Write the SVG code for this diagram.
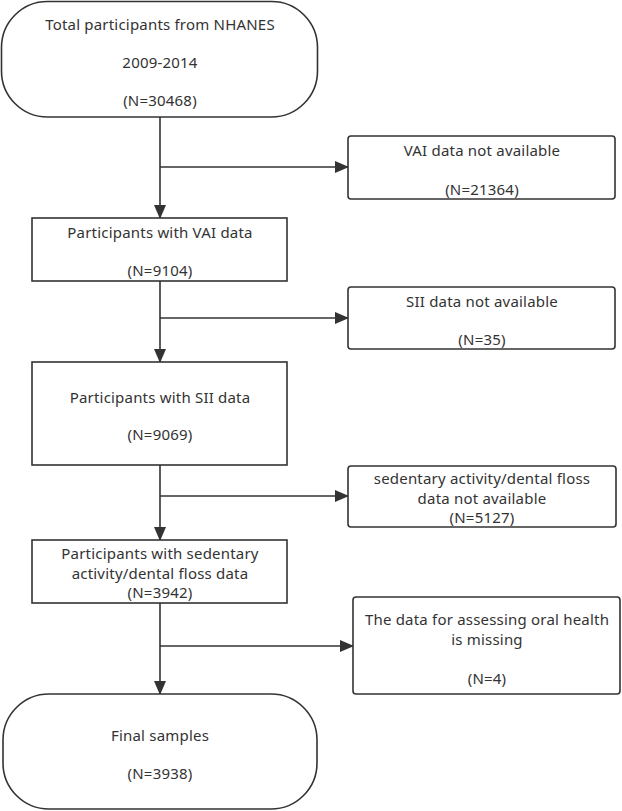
<svg xmlns="http://www.w3.org/2000/svg" width="622" height="811" viewBox="0 0 622 811">
<style>
.box{fill:#fff;stroke:#333;stroke-width:1.6}
.t{font-family:"Noto Sans","Open Sans",sans-serif;font-size:15px;letter-spacing:0.2px;fill:#333;text-anchor:middle;dominant-baseline:central}
.c{fill:none;stroke:#333;stroke-width:1.6}
</style>
<defs>
<marker id="ar" markerUnits="userSpaceOnUse" markerWidth="14" markerHeight="12" refX="13" refY="6" orient="auto">
<path d="M0,0 L14,6 L0,12 Z" fill="#333"/>
</marker>
</defs>
<rect width="622" height="811" fill="#fff"/>
<g id="connectors">
<line class="c" x1="160" y1="117" x2="160" y2="218" marker-end="url(#ar)"/>
<line class="c" x1="160" y1="167" x2="348" y2="167" marker-end="url(#ar)"/>
<line class="c" x1="160" y1="281" x2="160" y2="362" marker-end="url(#ar)"/>
<line class="c" x1="160" y1="318" x2="348" y2="318" marker-end="url(#ar)"/>
<line class="c" x1="160" y1="465" x2="160" y2="540" marker-end="url(#ar)"/>
<line class="c" x1="160" y1="496" x2="348" y2="496" marker-end="url(#ar)"/>
<line class="c" x1="160" y1="603" x2="160" y2="694" marker-end="url(#ar)"/>
<line class="c" x1="160" y1="646" x2="353" y2="646" marker-end="url(#ar)"/>
</g>
<g id="n-total">
<rect class="box" x="1.5" y="1.5" width="316" height="115.5" rx="46" ry="46"/>
<text class="t" x="160" y="24">Total participants from NHANES</text>
<text class="t" x="160" y="62">2009-2014</text>
<text class="t" x="160" y="100">(N=30468)</text>
</g>
<g id="n-vai-na">
<rect class="box" x="348" y="136" width="267" height="63" rx="3"/>
<text class="t" x="482" y="150">VAI data not available</text>
<text class="t" x="482" y="189">(N=21364)</text>
</g>
<g id="n-vai">
<rect class="box" x="32" y="218" width="255" height="63"/>
<text class="t" x="160" y="232">Participants with VAI data</text>
<text class="t" x="160" y="270">(N=9104)</text>
</g>
<g id="n-sii-na">
<rect class="box" x="348" y="287" width="267" height="62" rx="3"/>
<text class="t" x="482" y="301">SII data not available</text>
<text class="t" x="482" y="339">(N=35)</text>
</g>
<g id="n-sii">
<rect class="box" x="32" y="362" width="255" height="103"/>
<text class="t" x="160" y="397">Participants with SII data</text>
<text class="t" x="160" y="434">(N=9069)</text>
</g>
<g id="n-sed-na">
<rect class="box" x="348" y="466" width="268" height="61" rx="3"/>
<text class="t" x="482" y="478">sedentary activity/dental floss</text>
<text class="t" x="482" y="497.5">data not available</text>
<text class="t" x="482" y="517">(N=5127)</text>
</g>
<g id="n-sed">
<rect class="box" x="32" y="540" width="255" height="63"/>
<text class="t" x="160" y="553">Participants with sedentary</text>
<text class="t" x="160" y="572.5">activity/dental floss data</text>
<text class="t" x="160" y="592">(N=3942)</text>
</g>
<g id="n-oral-na">
<rect class="box" x="353" y="597" width="267" height="97" rx="3"/>
<text class="t" x="487" y="619">The data for assessing oral health</text>
<text class="t" x="487" y="639">is missing</text>
<text class="t" x="487" y="678">(N=4)</text>
</g>
<g id="n-final">
<rect class="box" x="3" y="694" width="314" height="115" rx="46" ry="46"/>
<text class="t" x="160" y="735">Final samples</text>
<text class="t" x="160" y="773">(N=3938)</text>
</g>
</svg>
